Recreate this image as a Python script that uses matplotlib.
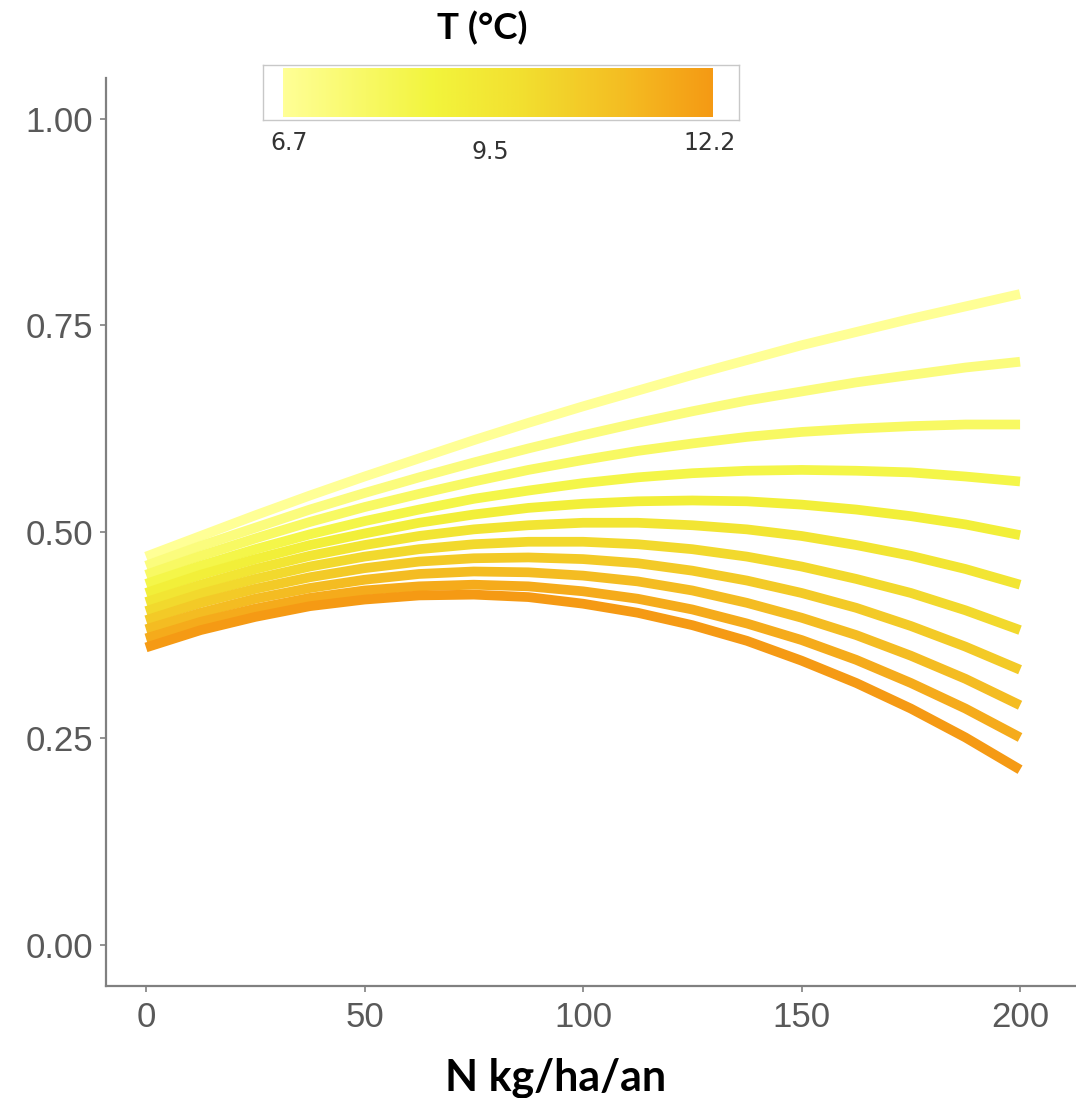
import matplotlib
matplotlib.use("Agg")
import matplotlib.pyplot as plt
import numpy as np
from matplotlib.colors import LinearSegmentedColormap, Normalize

# ---------------- data ----------------
N_vals = [0, 12.5, 25, 37.5, 50, 62.5, 75, 87.5, 100,
          112.5, 125, 137.5, 150, 162.5, 175, 187.5, 200]
temps = [6.70, 7.25, 7.80, 8.35, 8.90, 9.45, 10.00, 10.55, 11.10, 11.65, 12.20]

y_t01 = [0.470, 0.495, 0.520, 0.544, 0.567, 0.589, 0.611, 0.632, 0.652,
         0.671, 0.690, 0.708, 0.726, 0.742, 0.758, 0.773, 0.788]
y_t02 = [0.459, 0.483, 0.505, 0.527, 0.547, 0.566, 0.584, 0.601, 0.617,
         0.632, 0.646, 0.659, 0.670, 0.681, 0.690, 0.699, 0.706]
y_t03 = [0.448, 0.471, 0.492, 0.512, 0.530, 0.546, 0.561, 0.575, 0.587,
         0.598, 0.607, 0.615, 0.621, 0.625, 0.628, 0.630, 0.630]
y_t04 = [0.437, 0.459, 0.479, 0.497, 0.513, 0.527, 0.540, 0.550, 0.559,
         0.566, 0.571, 0.574, 0.575, 0.574, 0.572, 0.567, 0.561]
y_t05 = [0.426, 0.448, 0.467, 0.484, 0.498, 0.511, 0.521, 0.529, 0.534,
         0.537, 0.538, 0.537, 0.533, 0.527, 0.519, 0.509, 0.496]
y_t06 = [0.415, 0.436, 0.455, 0.471, 0.484, 0.495, 0.503, 0.508, 0.511,
         0.511, 0.508, 0.503, 0.495, 0.484, 0.471, 0.455, 0.436]
y_t07 = [0.404, 0.425, 0.443, 0.458, 0.470, 0.479, 0.485, 0.488, 0.488,
         0.485, 0.479, 0.470, 0.458, 0.443, 0.426, 0.405, 0.381]
y_t08 = [0.393, 0.414, 0.431, 0.445, 0.456, 0.464, 0.468, 0.469, 0.467,
         0.462, 0.453, 0.441, 0.426, 0.408, 0.386, 0.361, 0.333]
y_t09 = [0.382, 0.402, 0.419, 0.432, 0.442, 0.449, 0.452, 0.451, 0.447,
         0.440, 0.429, 0.414, 0.396, 0.375, 0.350, 0.322, 0.290]
y_t10 = [0.371, 0.391, 0.407, 0.420, 0.429, 0.434, 0.436, 0.434, 0.428,
         0.419, 0.406, 0.389, 0.369, 0.345, 0.317, 0.286, 0.251]
y_t11 = [0.360, 0.381, 0.397, 0.410, 0.418, 0.423, 0.424, 0.421, 0.413,
         0.402, 0.387, 0.368, 0.344, 0.317, 0.286, 0.251, 0.212]
series = [y_t01, y_t02, y_t03, y_t04, y_t05, y_t06, y_t07, y_t08, y_t09, y_t10, y_t11]

x_ticks = [0, 50, 100, 150, 200]
y_ticks = [0.00, 0.25, 0.50, 0.75, 1.00]
cbar_ticks = [6.7, 9.5, 12.2]
cbar_labels = ["6.7", "9.5", "12.2"]

x_title = "N kg/ha/an"
legend_title = "T (°C)"

# ---------------- figure ----------------
W, H = 1076, 1098
fig = plt.figure(figsize=(W / 100, H / 100), dpi=100)
fig.patch.set_facecolor("white")

cmap = LinearSegmentedColormap.from_list(
    "temp",
    [(0.0, "#FFFF96"), (0.35, "#F2F43C"), (0.55, "#F2E030"),
     (0.8, "#F4BC22"), (1.0, "#F59A14")])
norm = Normalize(vmin=min(temps), vmax=max(temps))

ax = fig.add_axes([106 / W, 1 - 986 / H, (W - 106) / W, (986 - 77.7) / H])
for T, ys in zip(temps, series):
    ax.plot(N_vals, ys, color=cmap(norm(T)), lw=7,
            solid_capstyle="butt", solid_joinstyle="round")

ax.set_xlim(-9.15, 212.8)
ax.set_ylim(-0.05, 1.05)
for s in ("top", "right"):
    ax.spines[s].set_visible(False)
for s in ("left", "bottom"):
    ax.spines[s].set_color("#808080")
    ax.spines[s].set_linewidth(1.6)

ax.set_xticks(x_ticks)
ax.set_xticklabels([str(v) for v in x_ticks])
ax.set_yticks(y_ticks)
ax.set_yticklabels([f"{v:.2f}" for v in y_ticks])
ax.tick_params(axis="both", labelsize=25, labelcolor="#595959",
               color="#808080", length=4.5, width=1.2)
ax.tick_params(axis="y", pad=5)
ax.tick_params(axis="x", pad=6)
for lab in ax.get_xticklabels() + ax.get_yticklabels():
    lab.set_family("Liberation Sans")

# ---------------- colour bar legend ----------------
cax = fig.add_axes([263 / W, 1 - 120 / H, 476 / W, 55 / H])
grad = np.linspace(min(temps), max(temps), 300)[None, :]
cax.imshow(grad, cmap=cmap, norm=norm, aspect="auto",
           extent=[min(temps), max(temps), 0.06, 0.94])
cax.set_xlim(6.444, 12.533)
cax.set_ylim(0, 1)
cax.set_xticks([])
cax.set_yticks([])
for s in cax.spines.values():
    s.set_color("#c8c8c8")
    s.set_linewidth(1.0)

offsets = {"6.7": (6, -0.42), "9.5": (-12, -0.58), "12.2": (-3, -0.42)}
for v, lab in zip(cbar_ticks, cbar_labels):
    dx, yy = offsets[lab]
    cax.annotate(lab, xy=(v, yy), xycoords=cax.get_xaxis_transform(),
                 xytext=(dx, 0), textcoords="offset pixels",
                 ha="center", va="center", fontsize=17, color="#333333",
                 family="DejaVu Sans", annotation_clip=False)

fig.text(482 / W, 1 - 28 / H, legend_title, ha="center", va="center",
         fontsize=26.5, fontweight="bold", family="Lato")
fig.text(556 / W, 1 - 1090 / H, x_title, ha="center", va="baseline",
         fontsize=31, fontweight="bold", family="Lato")

fig.savefig("out.png", dpi=100, facecolor="white")
